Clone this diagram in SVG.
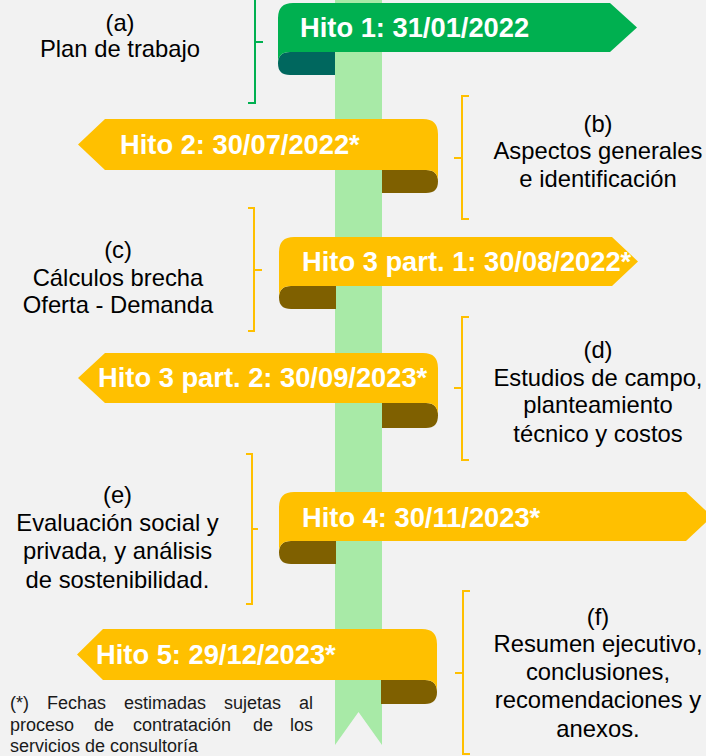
<svg xmlns="http://www.w3.org/2000/svg" width="706" height="756" viewBox="0 0 706 756">
  <style>
    .bg { fill: #F2F2F2; }
    .bar { fill: #A8EAA7; }
    .green { fill: #00B050; }
    .teal { fill: #00675E; }
    .yellow { fill: #FFC000; }
    .brown { fill: #7F6000; }
    .htxt { font-family: "Liberation Sans", Arial, sans-serif; font-weight: bold; font-size: 27.3px; fill: #FFFFFF; }
    .dtxt { font-family: "Liberation Sans", Arial, sans-serif; font-size: 23.8px; fill: #000000; text-anchor: middle; }
    .note { font-family: "Liberation Sans", Arial, sans-serif; font-size: 18px; fill: #1a1a1a; }
    .brk { fill: none; stroke-width: 2; stroke-linejoin: miter; }
    .bg-green { stroke: #00B050; }
    .bg-yellow { stroke: #FFC000; }
  </style>
  <rect class="bg" x="0" y="0" width="706" height="756"/>

  <g id="timeline">
    <path class="bar" d="M335,0 H382 V745 L358.5,712 L335,745 Z"/>
  </g>

  <g id="connectors">
    <path class="brk bg-green" d="M248,-19 H255 V103 H248 M255,42 H263"/>
    <path class="brk bg-yellow" d="M469,96 H462 V219 H469 M462,158 H454"/>
    <path class="brk bg-yellow" d="M248,208 H254 V331 H248 M254,270 H262"/>
    <path class="brk bg-yellow" d="M469,317 H462 V460 H469 M462,388 H454"/>
    <path class="brk bg-yellow" d="M246,454 H252 V604 H246 M252,529 H258"/>
    <path class="brk bg-yellow" d="M470,591 H463 V754 H470 M463,673 H455"/>
  </g>

  <g id="hito1">
    <path class="teal" d="M335,52 H290 Q278,52 278,63.5 Q278,75 290,75 H335 Z"/>
    <path class="green" d="M293,3 H610 L637,27.5 L610,52 H290 Q278,52 278,63.5 V18 Q278,3 293,3 Z"/>
    <text class="htxt" x="300" y="37">Hito 1: 31/01/2022</text>
  </g>

  <g id="hito2">
    <path class="brown" d="M382,170 H426 Q438,170 438,181.5 Q438,193 426,193 H382 Z"/>
    <path class="yellow" d="M105,119 H423 Q438,119 438,134 V181.5 Q438,170 426,170 H105 L78,144.5 Z"/>
    <text class="htxt" x="120" y="154">Hito 2: 30/07/2022*</text>
  </g>

  <g id="hito3a">
    <path class="brown" d="M336,286 H291 Q279,286 279,297.5 Q279,309 291,309 H336 Z"/>
    <path class="yellow" d="M294,237 H612 L638,261.5 L612,286 H291 Q279,286 279,297.5 V252 Q279,237 294,237 Z"/>
    <text class="htxt" x="302" y="271">Hito 3 part. 1: 30/08/2022*</text>
  </g>

  <g id="hito3b">
    <path class="brown" d="M382,403 H426 Q438,403 438,415.5 Q438,428 426,428 H382 Z"/>
    <path class="yellow" d="M105,353 H423 Q438,353 438,368 V415.5 Q438,403 426,403 H105 L78,378 Z"/>
    <text class="htxt" x="98" y="387">Hito 3 part. 2: 30/09/2023*</text>
  </g>

  <g id="hito4">
    <path class="brown" d="M336,541 H291 Q279,541 279,552.5 Q279,564 291,564 H336 Z"/>
    <path class="yellow" d="M294,492 H686 L712,516.5 L686,541 H291 Q279,541 279,552.5 V507 Q279,492 294,492 Z"/>
    <text class="htxt" x="302" y="527">Hito 4: 30/11/2023*</text>
  </g>

  <g id="hito5">
    <path class="brown" d="M381,680 H425 Q437,680 437,692 Q437,704 425,704 H381 Z"/>
    <path class="yellow" d="M103,629 H422 Q437,629 437,644 V692 Q437,680 425,680 H103 L77,654.5 Z"/>
    <text class="htxt" x="96" y="664">Hito 5: 29/12/2023*</text>
  </g>

  <g id="desc-a">
    <text class="dtxt" x="120" y="31">(a)</text>
    <text class="dtxt" x="120" y="57">Plan de trabajo</text>
  </g>

  <g id="desc-b">
    <text class="dtxt" x="598" y="132">(b)</text>
    <text class="dtxt" x="598" y="159">Aspectos generales</text>
    <text class="dtxt" x="598" y="187">e identificación</text>
  </g>

  <g id="desc-c">
    <text class="dtxt" x="118" y="258">(c)</text>
    <text class="dtxt" x="118" y="286">Cálculos brecha</text>
    <text class="dtxt" x="118" y="313">Oferta - Demanda</text>
  </g>

  <g id="desc-d">
    <text class="dtxt" x="598" y="358">(d)</text>
    <text class="dtxt" x="598" y="386">Estudios de campo,</text>
    <text class="dtxt" x="598" y="413">planteamiento</text>
    <text class="dtxt" x="598" y="442">técnico y costos</text>
  </g>

  <g id="desc-e">
    <text class="dtxt" x="117.5" y="503">(e)</text>
    <text class="dtxt" x="117.5" y="531">Evaluación social y</text>
    <text class="dtxt" x="117.5" y="559">privada, y análisis</text>
    <text class="dtxt" x="117.5" y="588">de sostenibilidad.</text>
  </g>

  <g id="desc-f">
    <text class="dtxt" x="598" y="625">(f)</text>
    <text class="dtxt" x="598" y="652">Resumen ejecutivo,</text>
    <text class="dtxt" x="598" y="680">conclusiones,</text>
    <text class="dtxt" x="598" y="708">recomendaciones y</text>
    <text class="dtxt" x="598" y="737">anexos.</text>
  </g>

  <g id="footnote">
    <text class="note" y="709"><tspan x="10">(*)</tspan><tspan x="47">Fechas</tspan><tspan x="124">estimadas</tspan><tspan x="224">sujetas</tspan><tspan x="313" text-anchor="end">al</tspan></text>
    <text class="note" y="731"><tspan x="10">proceso</tspan><tspan x="94">de</tspan><tspan x="133">contratación</tspan><tspan x="253">de</tspan><tspan x="313" text-anchor="end">los</tspan></text>
    <text class="note" x="10" y="752">servicios de consultoría</text>
  </g>
</svg>
